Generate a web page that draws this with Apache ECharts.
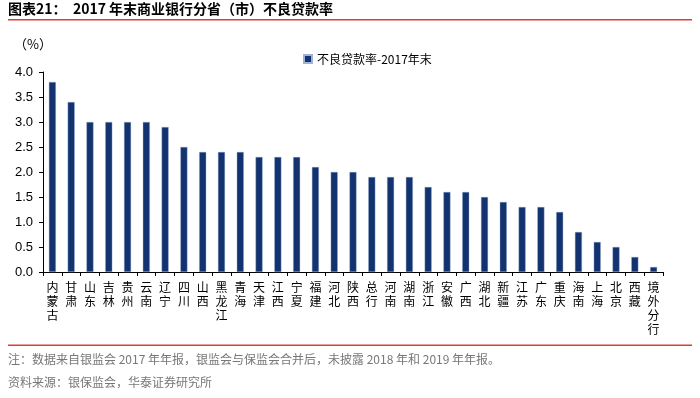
<!DOCTYPE html>
<html>
<head>
<meta charset="utf-8">
<script src="https://cdn.jsdelivr.net/npm/echarts@6/dist/echarts.min.js"></script>
<style>
  html, body { margin: 0; padding: 0; background: #fff; }
  #chart { width: 700px; height: 398px; }
</style>
</head>
<body>
<div id="chart"></div>
<script>
// 分省（市）名称
const provinces = ['内蒙古', '甘肃', '山东', '吉林', '贵州', '云南', '辽宁', '四川', '山西', '黑龙江',
  '青海', '天津', '江西', '宁夏', '福建', '河北', '陕西', '总行', '河南', '湖南', '浙江', '安徽',
  '广西', '湖北', '新疆', '江苏', '广东', '重庆', '海南', '上海', '北京', '西藏', '境外分行'];
// 不良贷款率 (%)
const nplRate = [3.8, 3.4, 3.0, 3.0, 3.0, 3.0, 2.9, 2.5, 2.4, 2.4,
  2.4, 2.3, 2.3, 2.3, 2.1, 2.0, 2.0, 1.9, 1.9, 1.9, 1.7, 1.6,
  1.6, 1.5, 1.4, 1.3, 1.3, 1.2, 0.8, 0.6, 0.5, 0.3, 0.1];
const seriesName = '不良贷款率-2017年末';

const cjk = '"Noto Sans CJK SC", sans-serif';
const latin = '"Liberation Sans", Arial, sans-serif';

let myChart = echarts.init(document.getElementById('chart'));
let option = {
  animation: false,
  graphic: [
    {
      type: 'text', left: 8, top: 2,
      style: { text: '图表21：  2017 年末商业银行分省（市）不良贷款率', font: 'bold 14px ' + cjk, fill: '#000' }
    },
    { type: 'rect', shape: { x: 8, y: 19, width: 684, height: 1.5 }, style: { fill: '#e03c31' } },
    {
      type: 'text', left: 14, top: 38,
      style: { text: '（%）', font: '13px ' + cjk, fill: '#000' }
    },
    { type: 'rect', shape: { x: 8, y: 344.5, width: 684, height: 1.5 }, style: { fill: '#e03c31' } },
    {
      type: 'text', left: 8, top: 353,
      style: { text: '注：数据来自银监会 2017 年年报，银监会与保监会合并后，未披露 2018 年和 2019 年年报。', font: '12px ' + cjk, fill: '#777' }
    },
    {
      type: 'text', left: 8, top: 376,
      style: { text: '资料来源：银保监会，华泰证券研究所', font: '12px ' + cjk, fill: '#777' }
    }
  ],
  legend: {
    left: 298, top: 48,
    itemWidth: 8, itemHeight: 8, itemGap: 4,
    icon: 'rect',
    textStyle: { fontSize: 12, fontFamily: cjk, color: '#000' },
    data: [seriesName]
  },
  grid: { left: 43, right: 37, top: 72, bottom: 126, containLabel: false },
  xAxis: {
    type: 'category',
    data: provinces,
    axisLine: { lineStyle: { color: '#000', width: 1 } },
    axisTick: { show: true, length: 4, lineStyle: { color: '#000' } },
    axisLabel: {
      interval: 0,
      margin: 8,
      fontSize: 12,
      lineHeight: 14,
      fontFamily: cjk,
      color: '#000',
      verticalAlign: 'top',
      formatter: v => v.split('').join('\n')
    }
  },
  yAxis: {
    type: 'value',
    min: 0, max: 4, interval: 0.5,
    splitLine: { show: false },
    axisLine: { show: true, lineStyle: { color: '#000' } },
    axisTick: { show: true, length: 4, lineStyle: { color: '#000' } },
    axisLabel: {
      fontSize: 13, fontFamily: latin, color: '#000', margin: 10,
      formatter: v => v.toFixed(1)
    }
  },
  series: [
    {
      name: seriesName,
      type: 'bar',
      data: nplRate,
      barWidth: 7,
      itemStyle: { color: '#12336f', borderColor: '#9fb3d6', borderWidth: 0.4 }
    }
  ]
};
myChart.setOption(option);
</script>
</body>
</html>
